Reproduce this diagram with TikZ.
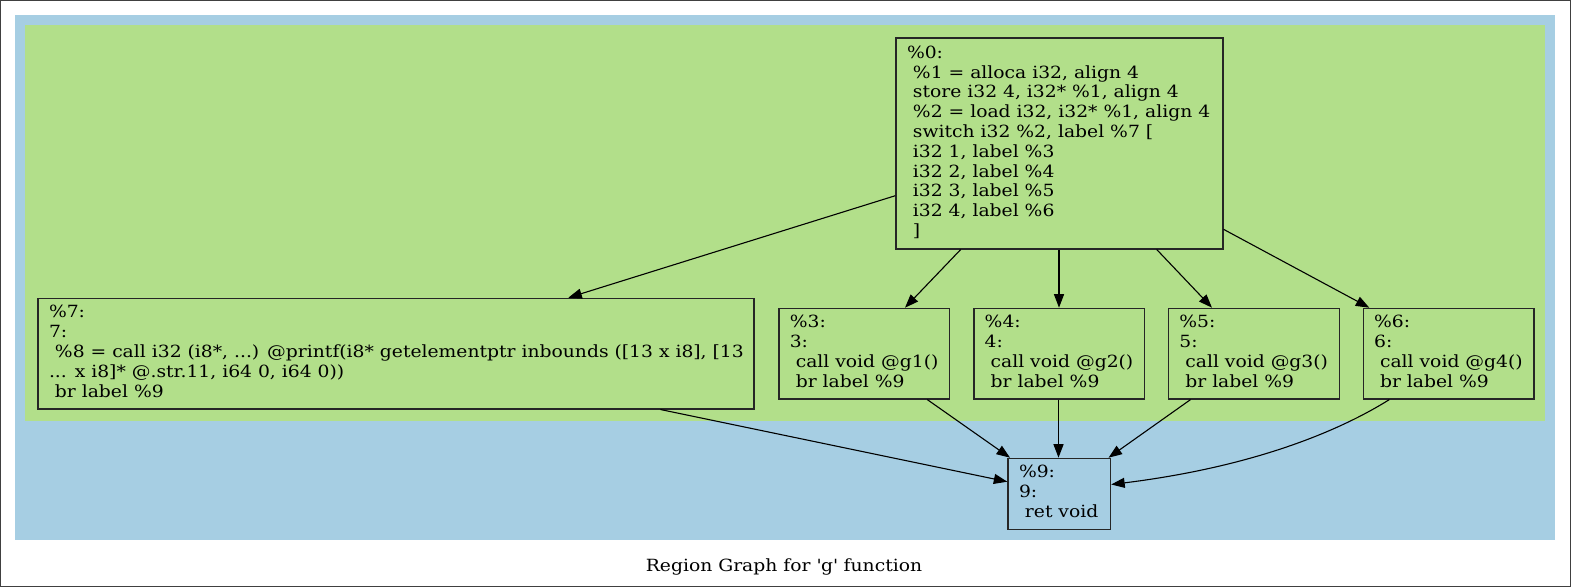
\documentclass[tikz,border=0pt]{standalone}
\usepackage{fontspec}
\setmainfont{DejaVu Serif}[FakeStretch=1.115]
\usetikzlibrary{arrows.meta,calc}
\definecolor{clblue}{HTML}{A6CEE3}
\definecolor{clgreen}{HTML}{B2DF8A}
\newcommand\gvf{\fontsize{16.8pt}{19.8pt}\selectfont}
\tikzset{
  bbox/.style={rectangle, draw=black!85, line width=1.2pt, inner sep=0pt, anchor=north west},
  btxt/.style={anchor=west, align=left, inner sep=0pt, font=\gvf},
  edge/.style={draw=black, line width=1.1pt, -{Triangle[length=13.5pt,width=10pt]}}
}
\begin{document}
\begin{tikzpicture}[x=1pt,y=-1pt]
\useasboundingbox (0,0) rectangle (1571,587);
\draw[line width=1.2pt, black!75] (0.6,0.6) rectangle (1570.4,586.2);
% clusters
\fill[clblue] (15,15) rectangle (1555.3,540);
\fill[clgreen] (25,25) rectangle (1545,420.5);
% boxes
\node[bbox, minimum width=327pt, minimum height=211pt] (n0) at (895.3,37.3) {};
\node[bbox, minimum width=716pt, minimum height=110.6pt] (n7) at (37.3,297.7) {};
\node[bbox, minimum width=170.6pt, minimum height=90.7pt] (n3) at (778.4,307.7) {};
\node[bbox, minimum width=170.6pt, minimum height=90.7pt] (n4) at (973.3,307.7) {};
\node[bbox, minimum width=170.6pt, minimum height=90.7pt] (n5) at (1168,307.7) {};
\node[bbox, minimum width=170.6pt, minimum height=90.7pt] (n6) at (1362.7,307.7) {};
\node[bbox, minimum width=102.7pt, minimum height=71pt] (n9) at (1007.3,457.7) {};
% texts
\node[btxt] (n0t) at ($(n0.west)+(11.5,0)$) {\strut\%0:\\
\strut\ \%1 = alloca i32, align 4\\
\strut\ store i32 4, i32* \%1, align 4\\
\strut\ \%2 = load i32, i32* \%1, align 4\\
\strut\ switch i32 \%2, label \%7 [\\
\strut\ i32 1, label \%3\\
\strut\ i32 2, label \%4\\
\strut\ i32 3, label \%5\\
\strut\ i32 4, label \%6\\
\strut\ ]};
\node[btxt] (n7t) at ($(n7.west)+(11.5,0)$) {\strut\%7:\\
\strut 7:\\
\strut\ \%8 = call i32 (i8*, ...) @printf(i8* getelementptr inbounds ([13 x i8], [13\\
\strut... x i8]* @.str.11, i64 0, i64 0))\\
\strut\ br label \%9};
\node[btxt] (n3t) at ($(n3.west)+(11.2,0)$) {\strut\%3:\\ \strut 3:\\ \strut\ call void @g1()\\ \strut\ br label \%9};
\node[btxt] (n4t) at ($(n4.west)+(11.2,0)$) {\strut\%4:\\ \strut 4:\\ \strut\ call void @g2()\\ \strut\ br label \%9};
\node[btxt] (n5t) at ($(n5.west)+(11.2,0)$) {\strut\%5:\\ \strut 5:\\ \strut\ call void @g3()\\ \strut\ br label \%9};
\node[btxt] (n6t) at ($(n6.west)+(11.2,0)$) {\strut\%6:\\ \strut 6:\\ \strut\ call void @g4()\\ \strut\ br label \%9};
\node[btxt] (n9t) at ($(n9.west)+(11.5,0)$) {\strut\%9:\\ \strut 9:\\ \strut\ ret void};
% edges
\draw[edge] ($(n0.north west)+(0,158.4)$) -- ($(n7.north west)+(531,0)$);
\draw[edge] ($(n0.south west)+(65.4,0)$) -- ($(n3.north west)+(126.6,0)$);
\draw[edge] ($(n0.south west)+(163.7,0)$) -- ($(n4.north west)+(85.7,0)$);
\draw[edge] ($(n0.south west)+(261.4,0)$) -- ($(n5.north west)+(44,0)$);
\draw[edge] ($(n0.north east)+(0,192)$) -- ($(n6.north west)+(6.6,0)$);
\draw[edge] ($(n7.south west)+(623.1,0)$) -- ($(n9.north west)+(0,24)$);
\draw[edge] ($(n3.south west)+(148.9,0)$) -- ($(n9.north west)+(2.7,0)$);
\draw[edge] ($(n4.south west)+(85.2,0)$) -- ($(n9.north west)+(51.2,0)$);
\draw[edge] ($(n5.south west)+(22.5,0)$) -- ($(n9.north west)+(101.2,0)$);
\draw[edge] ($(n6.south west)+(26.6,0)$) .. controls (1344,428) and (1260,466) .. ($(n9.north east)+(0,26.8)$);
% title
\node[font=\gvf, anchor=base, inner sep=0pt] (title) at (784,571.7) {Region Graph for \textquotesingle g\textquotesingle{} function};
\end{tikzpicture}
\end{document}
